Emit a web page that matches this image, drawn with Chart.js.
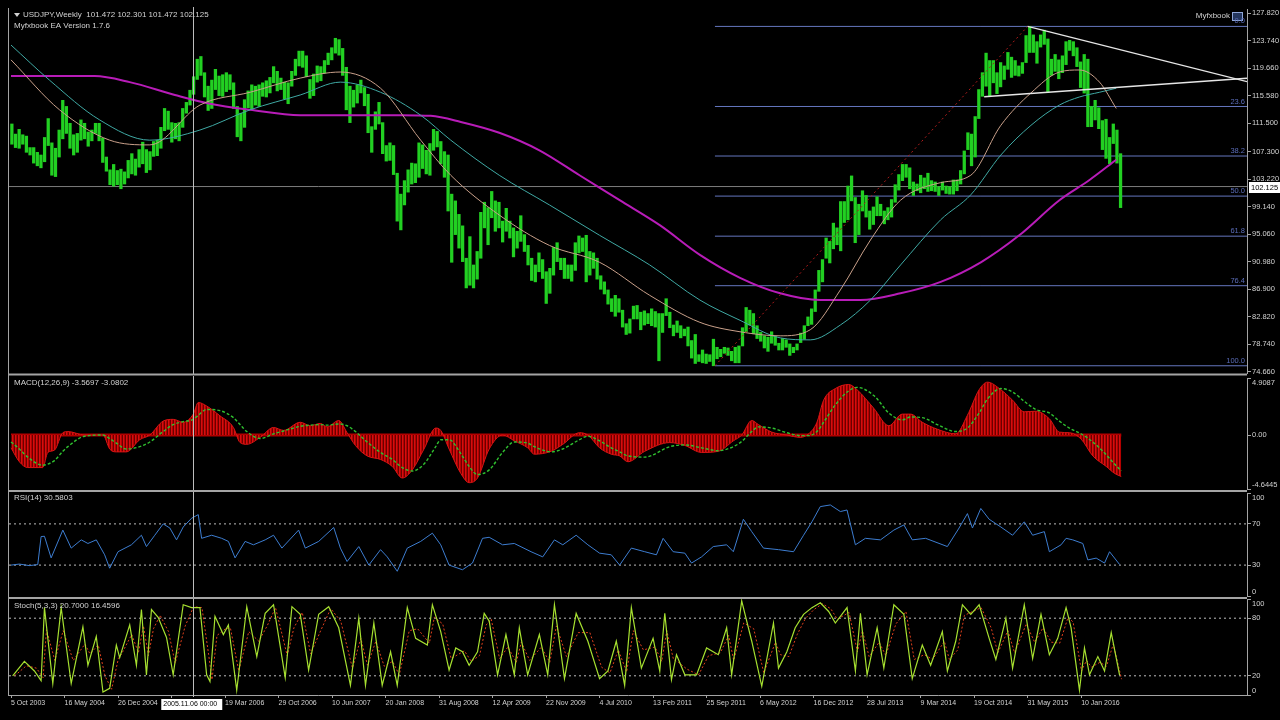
<!DOCTYPE html>
<html><head><meta charset="utf-8">
<script src="https://cdn.jsdelivr.net/npm/chart.js@4.4.1/dist/chart.umd.min.js"></script>
<style>
html,body{margin:0;padding:0;background:#000;overflow:hidden;width:1280px;height:720px}
canvas{position:absolute;left:0;top:0}
</style></head><body>
<canvas id="cMain" width="1280" height="720"></canvas>
<canvas id="cMacd" width="1280" height="720"></canvas>
<canvas id="cRsi" width="1280" height="720"></canvas>
<canvas id="cStoch" width="1280" height="720"></canvas>
<script>
// ---------- time axis: weeks since 5 Oct 2003 ----------
const X_MIN = -1.2, X_MAX = 739.2;
const dateTickWeeks = [0,32,64,96,128,160,192,224,256,288,320,352,384,416,448,480,512,544,576,608,640];
const dateTickLabels = ['5 Oct 2003','16 May 2004','26 Dec 2004','7 Aug 2005','19 Mar 2006','29 Oct 2006','10 Jun 2007','20 Jan 2008','31 Aug 2008','12 Apr 2009','22 Nov 2009','4 Jul 2010','13 Feb 2011','25 Sep 2011','6 May 2012','16 Dec 2012','28 Jul 2013','9 Mar 2014','19 Oct 2014','31 May 2015','10 Jan 2016'];
const crosshairWeek = 109;
const crosshairLabel = '2005.11.06 00:00';

// ---------- price axis ----------
const priceTickValues = [74.66,78.74,82.82,86.90,90.98,95.06,99.14,103.22,107.30,111.50,115.58,119.66,123.74,127.82];
const priceTickLabels = ['74.660','78.740','82.820','86.900','90.980','95.060','99.140','103.220','107.300','111.500','115.580','119.660','123.740','127.820'];

// ---------- USDJPY half-month bars (Oct 2003 .. Jun 2016), low / high ----------
const barLow = [
108.4,107.9,107.8,108.4,107.2,106.8,
105.6,105.2,104.9,105.8,108.2,103.8,103.6,106.5,109.2,110.0,107.8,106.8,107.2,109.0,109.2,108.1,108.9,110.0,108.9,105.7,104.4,102.4,102.2,102.4,
101.8,102.5,103.4,104.0,103.8,105.0,105.5,104.2,104.6,106.6,106.7,107.8,110.4,110.6,108.7,109.2,108.9,110.9,113.0,114.2,115.8,118.0,118.6,115.4,
113.4,113.7,116.5,115.6,115.5,116.2,116.5,113.7,109.5,108.9,110.9,113.8,113.6,114.2,114.0,115.5,115.4,116.0,117.5,116.3,116.5,115.1,114.4,117.0,
118.6,120.0,119.8,118.4,115.2,115.6,117.6,117.8,118.9,120.2,120.9,121.9,121.6,118.6,113.5,111.6,113.9,114.5,116.0,114.1,110.1,107.2,110.6,111.4,
107.0,105.9,106.0,103.9,97.0,95.7,99.4,101.3,102.5,102.7,103.5,104.8,104.0,103.8,107.5,108.0,105.5,103.5,98.5,90.9,95.0,93.0,91.0,87.1,
87.5,87.1,88.4,91.5,96.0,93.5,97.5,95.5,96.0,93.9,95.5,94.5,91.7,93.0,94.0,92.5,90.5,88.2,88.0,89.5,88.5,84.8,86.3,89.0,
91.0,89.8,88.5,88.5,88.1,89.7,92.3,92.5,88.0,89.0,90.0,88.4,86.9,86.2,84.7,83.6,82.9,83.5,81.3,80.2,80.4,82.5,82.5,80.9,
81.6,81.8,81.5,81.3,76.3,80.5,83.0,81.2,80.0,80.5,79.7,80.0,78.5,76.7,75.9,76.2,76.0,75.9,76.2,75.56,76.6,76.9,77.4,77.1,
76.3,76.0,76.0,78.5,80.6,81.6,80.3,79.6,79.2,78.2,77.7,78.9,78.6,77.9,77.9,78.3,77.1,77.5,77.9,79.0,79.5,81.5,81.7,83.6,
86.6,88.0,91.5,90.8,92.9,93.5,92.6,96.8,97.2,100.0,93.8,95.0,98.5,97.6,95.8,96.5,97.8,97.8,96.6,97.2,97.6,99.8,101.6,103.0,
103.5,101.8,100.8,101.5,101.2,101.8,101.4,101.5,101.4,100.8,101.6,101.1,101.0,101.0,101.5,102.5,104.0,107.6,105.2,106.5,112.2,115.5,117.0,115.6,
117.5,115.9,116.9,118.0,119.5,118.3,118.6,118.5,118.9,120.5,122.0,122.0,120.4,122.8,123.2,116.2,118.6,119.2,118.1,119.0,120.2,122.3,121.5,119.9,
116.8,115.98,110.99,111.0,112.0,110.7,107.6,106.3,105.5,108.5,105.6,99.0];
const barHigh = [
111.4,109.9,110.6,109.8,109.6,107.9,
107.9,107.2,106.8,109.4,112.2,108.6,107.8,110.5,114.9,114.0,111.5,109.8,110.0,112.0,111.5,110.2,110.5,111.5,111.5,109.3,106.5,104.6,105.4,104.5,
104.7,104.3,106.0,107.0,106.2,107.6,108.7,107.6,107.3,108.8,109.0,110.9,113.7,113.3,111.6,111.5,111.6,113.7,114.6,116.4,118.4,121.0,121.4,119.0,
117.0,117.9,119.5,118.5,118.7,119.0,118.7,117.5,114.0,113.0,115.0,116.3,117.2,117.0,117.2,117.5,117.8,118.3,119.9,119.2,118.2,117.6,117.5,119.2,
121.0,122.2,122.2,121.5,118.0,118.8,120.0,119.9,120.8,121.9,122.7,124.1,123.9,122.6,119.8,117.0,116.4,117.2,117.9,116.8,115.8,111.0,113.2,114.6,
111.6,108.2,108.6,108.2,104.1,101.0,103.0,104.6,105.6,105.5,108.6,108.3,107.5,108.5,110.6,110.3,108.8,107.3,106.8,101.0,100.0,98.0,96.3,91.5,
94.7,90.5,92.5,98.3,99.8,99.0,101.4,100.0,99.8,97.0,98.9,97.0,96.0,95.5,97.8,95.0,93.4,91.5,90.5,92.3,91.3,89.5,90.0,93.1,
93.8,91.5,91.5,90.5,90.5,93.8,94.8,94.5,94.9,92.5,92.3,91.5,88.9,88.0,86.8,85.5,86.0,85.5,83.8,81.8,82.5,84.4,84.5,83.5,
83.7,83.3,84.0,83.6,83.3,83.3,85.5,83.5,81.6,82.2,81.5,81.0,81.3,79.3,80.2,77.2,77.9,77.3,77.2,79.5,78.3,78.0,78.3,78.2,
77.7,78.3,78.5,81.2,84.2,83.8,83.3,81.5,80.5,80.0,79.8,80.6,79.9,78.9,79.6,79.4,78.8,78.3,78.8,80.4,81.5,82.8,84.0,86.8,
89.7,91.3,94.5,94.0,96.7,96.0,99.9,99.9,102.2,103.7,100.5,99.5,101.5,100.8,98.5,99.1,100.6,99.5,98.5,99.0,100.2,102.4,103.9,105.4,
105.4,104.9,102.8,102.5,103.8,103.4,104.1,103.0,102.8,102.1,102.8,102.2,102.1,103.1,103.1,104.5,107.4,110.1,109.9,112.5,116.5,119.0,121.9,120.8,
120.8,119.0,120.5,120.0,122.0,121.3,120.8,120.0,120.5,124.5,125.86,124.6,123.6,124.6,125.3,124.0,121.0,121.7,120.9,121.5,123.6,123.8,123.6,122.7,
120.6,121.7,121.0,114.0,114.9,113.8,111.9,112.1,109.4,111.4,110.5,107.0];
// half-month index -> week position on the time axis
const barWeek = i => (i / 2 + 0.25) * 4.348 - 0.57;

// ---------- moving averages ----------
const maLongWeeks = [0,50,71,98,119,143,173,203,233,251,269,292,316,340,364,388,412,436,460,484,508,532,556,580,603,627,645,661];
const maLong      = [118.5,118.5,117.6,115.7,114.4,113.5,112.7,112.7,112.7,112.6,111.7,110.1,107.5,103.8,100.1,96.4,92.0,88.6,86.3,85.3,85.3,86.3,88.0,90.9,94.9,100.1,103.1,106.1];
const maMidWeeks  = [0,23,53,83,113,143,173,197,221,245,263,292,322,352,382,412,436,460,478,496,514,532,556,574,592,610,627,639,651,661];
const maMid       = [123.1,117.9,112.0,109.0,110.5,113.5,115.7,117.6,116.1,112.7,109.0,103.8,99.4,94.9,90.5,85.3,82.3,79.7,79.4,81.6,85.3,90.5,97.2,100.9,106.8,111.2,114.2,115.4,116.1,116.7];
const maFastWeeks = [0,29,59,83,113,143,173,197,221,245,263,292,322,352,382,412,436,460,478,496,514,532,556,574,592,610,627,639,651,661];
const maFast      = [120.9,113.5,109.0,108.3,114.2,116.1,118.2,119.1,116.7,109.0,103.8,97.9,93.4,90.9,86.0,82.0,80.6,80.0,80.9,86.8,94.2,100.1,102.7,103.8,111.2,116.0,119.1,119.4,117.6,113.7];

// ---------- objects ----------
const bidPrice = 102.125;
const fibStartWeek = 421;
const fibPrices = [125.86,113.99,106.65,100.71,94.77,87.43,75.56];
const fibLabels = ['0.0','23.6','38.2','50.0','61.8','76.4','100.0'];
const fibBaseWeeks = [421,608];
const fibBasePrices = [75.56,125.86];
const trendAWeeks = [608,739.2];
const trendAPrices = [125.86,117.66];
const trendBWeeks = [582,739.2];
const trendBPrices = [115.44,118.17];

// ---------- MACD(12,26,9) ----------
const macdWeeks = [0,5,10,19,22,26,31,34,44,55,59,63,69,77,83,91,97,103,109,112,117,125,133,137,141,149,157,163,173,179,185,189,196,201,206,213,221,228,234,240,247,254,257,262,269,274,279,286,294,301,309,313,323,330,340,345,352,359,364,369,379,394,403,413,423,432,437,443,447,455,464,472,477,482,486,493,501,506,516,525,533,538,545,554,565,572,579,584,592,599,606,613,621,627,633,640,647,655,660,664];
const macdMain = [-1.1,-2.3,-2.8,-2.8,-1.5,-1.3,0.2,0.3,0.0,0.0,-1.2,-1.45,-1.45,-0.4,0,1.2,1.35,1.1,1.8,2.8,2.5,1.65,0.65,-0.65,-0.8,-0.2,0.65,0.4,1.1,0.8,1.0,0.7,1.25,0.2,-0.9,-1.8,-2.1,-2.7,-3.7,-3.0,-1.2,0.6,0.4,-1.2,-3.3,-4.1,-3.7,-1.2,0,-0.5,-1.1,-1.65,-1.4,-0.8,0.2,0,-1.1,-1.65,-1.8,-2.3,-1.4,-0.65,-0.9,-1.5,-1.4,-0.5,0,1.25,0.9,0.25,0,-0.2,0.1,1.1,3.0,4.0,4.35,3.9,2.3,0.8,1.8,1.8,1.1,0.5,0.1,1.7,3.9,4.55,3.9,3.0,2.0,2.05,1.4,0.25,0.2,-0.35,-1.8,-2.7,-3.3,-3.5697];
const macdSignal = [-0.6,-1.2,-1.9,-2.6,-2.5,-2.2,-1.4,-1.0,-0.1,0.0,-0.3,-0.7,-1.2,-1.0,-0.6,0.3,0.9,1.15,1.35,1.7,2.2,2.1,1.5,0.9,0.3,-0.3,0.1,0.35,0.75,0.85,0.9,0.85,0.95,0.8,0.3,-0.6,-1.5,-2.1,-2.8,-3.1,-2.5,-1.0,-0.4,-0.4,-1.6,-2.7,-3.4,-3.0,-1.5,-0.6,-0.7,-1.0,-1.45,-1.2,-0.4,-0.1,-0.5,-1.1,-1.45,-1.8,-1.9,-1.0,-0.85,-1.1,-1.35,-1.0,-0.55,0.3,0.7,0.6,0.2,-0.05,-0.05,0.3,1.1,2.6,3.8,4.1,3.4,1.9,1.3,1.55,1.5,0.9,0.3,0.6,1.9,3.1,4.0,3.7,2.9,2.2,1.9,1.2,0.6,0.1,-0.6,-1.7,-2.5,-3.0802];
const macdTickValues = [-4.6445,0,4.9087];
const macdTickLabels = ['-4.6445','0.00','4.9087'];

// ---------- RSI(14) ----------
const rsiWeeks = [0,5,11,16,18,20,24,31,36,42,46,51,56,59,64,72,78,81,86,91,95,99,103,108,112,114,120,126,130,134,140,145,152,157,162,172,176,184,193,197,201,208,214,221,225,231,237,245,252,257,262,270,276,282,286,294,301,311,318,325,330,338,345,352,359,364,371,379,386,390,396,403,407,413,420,428,432,438,443,450,459,468,474,479,484,490,496,500,505,511,520,528,534,539,547,560,567,572,575,580,585,592,599,606,611,618,621,628,631,635,641,644,649,654,657,663];
const rsiValues = [30,31,29.5,30.5,57.7,58,37,64,46.5,54.5,51,54.5,40,27,43,49.7,59,48,59,70,66,54.5,67,75.5,79,56,59,56,53,37,53,49.7,54.5,59,46.5,64,46.5,53,66.5,46.5,33.5,48,30,45,38,24,46.5,53,61,49.7,30,25.5,32,56,57,49.7,51,43,38,54.5,49.7,59,49.7,41.6,40,30,46.5,43,40,56,43,41.6,32,38,48,49.7,43,74.5,62.5,46.5,45,43,59,72,86.8,88.4,82,83.5,49.7,56,54.5,64,69,54.5,56,48,66,80,66,85,74.5,67,59,72,59,62.5,43,49.7,56,54.5,51,35,36.8,32,43,30.58];
const rsiLevels = [70,30];

// ---------- Stochastic(5,3,3) ----------
const stochWeeks = [1,8,14,18,20,25,30,36,43,46,51,55,59,63,65,71,75,78,81,84,88,93,97,103,108,113,117,119,122,127,130,135,141,147,152,157,164,168,173,178,184,190,196,203,208,212,217,222,227,231,237,242,249,252,257,262,266,270,274,279,283,286,291,296,301,304,309,316,321,325,331,338,345,352,357,362,367,371,377,384,388,391,395,398,403,410,416,423,428,431,437,443,449,456,459,464,469,474,479,484,489,493,500,505,508,512,518,522,528,534,539,545,550,557,560,565,569,574,579,585,589,595,599,606,611,616,621,626,631,634,639,642,645,650,654,658,663];
const stochMain = [20,35,25,15,91,12,91,12,71,31,61,3,7,52,39,73,31,89,21,89,81,60,21,94,91,91,21,14,82,63,73,5,92,40,85,94,18,92,84,26,84,92,70,10,80,10,75,10,45,10,91,59,52,94,66,26,49,45,31,45,85,77,21,63,21,70,21,63,21,94,17,85,56,17,25,56,10,91,28,59,25,85,16,42,21,21,49,42,70,21,98,56,9,75,28,45,70,84,91,96,87,75,91,25,85,21,70,28,94,84,17,52,31,66,25,56,94,84,94,59,37,80,28,94,38,84,42,59,91,70,5,49,21,40,25,65,20.7];
const stochSignal = [20,30.5,28,18,68,36,67,36,53,43,52,20,6,38,43,63,44,72,41,69,83,66,33,72,92,91,42,16,62,69,70,25,66,56,72,91,41,70,86,43,67,90,77,28,59,31,56,30,35,21,67,69,54,81,74,38,42,46,35,41,73,79,38,50,34,55,36,50,34,72,40,65,65,29,23,47,24,67,47,50,35,67,37,34,27,21,41,44,62,36,75,69,23,55,42,40,63,80,89,95,90,79,86,45,67,40,55,41,74,87,37,42,37,56,37,47,83,87,91,70,44,67,44,74,55,70,55,54,81,76,25,36,29,34,30,53,16.46];
const stochSignalLagWeeks = 1.2;
const stochLevels = [80,20];

// ---------- styling ----------
const FONT = "'Liberation Sans', Arial, sans-serif";
const TXT = '#d2d2d2';
const FRAME = '#a4a4a4';

const pts = (ws, vs) => ws.map((w, i) => ({ x: w, y: vs[i] }));
const line = (data, color, width, extra) => Object.assign({
  type: 'line', data, borderColor: color, borderWidth: width, pointRadius: 0,
  fill: false, tension: 0, spanGaps: true
}, extra || {});

function xAxis(show) {
  return {
    type: 'linear', min: X_MIN, max: X_MAX, offset: false, display: show,
    afterBuildTicks: s => { s.ticks = dateTickWeeks.map(v => ({ value: v })); },
    afterFit: s => { if (show) s.height = 25; },
    ticks: { autoSkip: false, maxRotation: 0, minRotation: 0, align: 'start', padding: 1,
      color: TXT, font: { family: FONT, size: 7 }, callback: (v, i) => dateTickLabels[i] },
    grid: { display: show, drawOnChartArea: false, drawTicks: true, tickLength: 3, color: FRAME },
    border: { display: show, color: FRAME, width: 1 }
  };
}
function yAxis(min, max, vals, labels) {
  return {
    position: 'right', min, max,
    afterFit: s => { s.width = 33; },
    afterBuildTicks: s => { s.ticks = vals.map(v => ({ value: v })); },
    ticks: { autoSkip: false, padding: 1, color: TXT, font: { family: FONT, size: 7.5 },
      callback: (v, i) => labels[i] },
    grid: { drawOnChartArea: false, drawTicks: true, tickLength: 4, color: FRAME },
    border: { display: true, color: FRAME, width: 1 }
  };
}
function baseOptions(top, bottom) {
  return {
    responsive: false, animation: false, events: [], devicePixelRatio: 1,
    layout: { padding: { left: 9, right: 0, top: top, bottom: bottom } },
    plugins: { legend: { display: false }, tooltip: { enabled: false } }
  };
}
function txt(ctx, s, x, y, color, size, align) {
  ctx.save();
  ctx.font = size + 'px ' + FONT;
  ctx.fillStyle = color; ctx.textAlign = align || 'left'; ctx.textBaseline = 'middle';
  ctx.fillText(s, x, y);
  ctx.restore();
}
const crosshair = {
  id: 'crosshair',
  afterDatasetsDraw(chart) {
    const { ctx, chartArea, scales } = chart;
    const x = Math.round(scales.x.getPixelForValue(crosshairWeek)) + 0.5;
    ctx.save();
    ctx.strokeStyle = '#bdbdbd'; ctx.lineWidth = 1;
    ctx.beginPath(); ctx.moveTo(x, chartArea.top - 2); ctx.lineTo(x, chartArea.bottom + 2); ctx.stroke();
    ctx.restore();
  }
};

// ================= MAIN PRICE PANEL =================
const mainDatasets = [];
mainDatasets.push(line(pts(trendAWeeks, trendAPrices), '#e6e6e6', 1.2, { order: 0 }));
mainDatasets.push(line(pts(trendBWeeks, trendBPrices), '#e6e6e6', 1.4, { order: 0 }));
mainDatasets.push(line(pts(fibBaseWeeks, fibBasePrices), '#b01c1c', 1, { order: 1, borderDash: [2, 3] }));
mainDatasets.push(line(pts(maFastWeeks, maFast), '#c9a08a', 1, { order: 2, cubicInterpolationMode: 'monotone' }));
mainDatasets.push(line(pts(maMidWeeks, maMid), '#3fa9a4', 1, { order: 3, cubicInterpolationMode: 'monotone' }));
mainDatasets.push(line(pts(maLongWeeks, maLong), '#b81cb8', 2, { order: 4, cubicInterpolationMode: 'monotone' }));
mainDatasets.push({
  type: 'bar', order: 5, grouped: false,
  data: barLow.map((lo, i) => ({ x: barWeek(i), y: [lo, barHigh[i]] })),
  backgroundColor: '#22d022', borderWidth: 0, barThickness: 2.6
});
mainDatasets.push(line(pts([X_MIN, X_MAX], [bidPrice, bidPrice]), '#7c7c7c', 1, { order: 6 }));
fibPrices.forEach(p => mainDatasets.push(line(pts([fibStartWeek, X_MAX], [p, p]), '#6476be', 1, { order: 7 })));

const mainOpts = baseOptions(9, 347);
mainOpts.scales = { x: xAxis(false), y: yAxis(74.49, 128.44, priceTickValues, priceTickLabels) };

new Chart(document.getElementById('cMain'), {
  type: 'line',
  data: { datasets: mainDatasets },
  options: mainOpts,
  plugins: [crosshair, {
    id: 'mainText',
    afterDraw(chart) {
      const { ctx, scales } = chart;
      ctx.save(); ctx.fillStyle = TXT;
      ctx.beginPath(); ctx.moveTo(14, 13); ctx.lineTo(20, 13); ctx.lineTo(17, 17); ctx.closePath(); ctx.fill();
      ctx.restore();
      txt(ctx, 'USDJPY,Weekly  101.472 102.301 101.472 102.125', 23, 15, TXT, 8);
      txt(ctx, 'Myfxbook EA Version 1.7.6', 14, 26, TXT, 8);
      txt(ctx, 'Myfxbook', 1230, 16, TXT, 8, 'right');
      ctx.save(); ctx.strokeStyle = '#8fa6d8'; ctx.fillStyle = '#24365e';
      ctx.fillRect(1232.5, 12.5, 10, 8); ctx.strokeRect(1232.5, 12.5, 10, 8); ctx.restore();
      fibPrices.forEach((p, i) => {
        const y = scales.y.getPixelForValue(p);
        txt(ctx, fibLabels[i], 1245, y - 5, '#5a6cb8', 7.5, 'right');
      });
      const yb = Math.round(scales.y.getPixelForValue(bidPrice));
      ctx.save(); ctx.fillStyle = '#ffffff'; ctx.fillRect(1249, yb - 5, 31, 11); ctx.restore();
      txt(ctx, '102.125', 1251, yb + 0.5, '#000000', 7.5);
    }
  }]
});

// ================= MACD PANEL =================
const macdCanvas = document.getElementById('cMacd');
const stripe = document.createElement('canvas'); stripe.width = 3; stripe.height = 4;
const sg = stripe.getContext('2d');
sg.fillStyle = '#b40000'; sg.fillRect(0, 0, 3, 4);
sg.fillStyle = '#d41010'; sg.fillRect(0, 0, 1, 4);
sg.fillStyle = '#6a0000'; sg.fillRect(2, 0, 1, 4);
const stripePattern = macdCanvas.getContext('2d').createPattern(stripe, 'repeat');

const macdOpts = baseOptions(378, 231);
macdOpts.scales = { x: xAxis(false), y: yAxis(-4.6445, 4.9087, macdTickValues,
  macdTickLabels.map((l, i) => i === 0 ? [l, ''] : (i === macdTickLabels.length - 1 ? ['', l] : l))) };
new Chart(macdCanvas, {
  type: 'line',
  data: { datasets: [
    line(pts(macdWeeks, macdSignal), '#2fc02f', 1.4, { order: 0, borderDash: [3, 2], cubicInterpolationMode: 'monotone' }),
    line(pts([0, 664], [0, 0]), '#b00000', 3, { order: 2 }),
    line(pts(macdWeeks, macdMain), '#d81414', 1, { order: 1, fill: 'origin', backgroundColor: stripePattern, cubicInterpolationMode: 'monotone' })
  ] },
  options: macdOpts,
  plugins: [crosshair, { id: 'macdText', afterDraw(chart) {
    txt(chart.ctx, 'MACD(12,26,9) -3.5697 -3.0802', 14, 383, TXT, 8);
  } }]
});

// ================= RSI PANEL =================
const rsiOpts = baseOptions(493, 124);
rsiOpts.scales = { x: xAxis(false), y: yAxis(0, 100, [0, 30, 70, 100], [['0', ''], '30', '70', ['', '100']]) };
new Chart(document.getElementById('cRsi'), {
  type: 'line',
  data: { datasets: [
    line(pts(rsiWeeks, rsiValues), '#3d7dd0', 1, { order: 0 }),
    ...rsiLevels.map(l => line(pts([X_MIN, X_MAX], [l, l]), '#bdbdbd', 1, { order: 1, borderDash: [2, 3] }))
  ] },
  options: rsiOpts,
  plugins: [crosshair, { id: 'rsiText', afterDraw(chart) {
    txt(chart.ctx, 'RSI(14) 30.5803', 14, 498, TXT, 8);
  } }]
});

// ================= STOCHASTIC PANEL =================
const stOpts = baseOptions(599, 0);
stOpts.scales = { x: xAxis(true), y: yAxis(0, 100, [0, 20, 80, 100], [['0', ''], '20', '80', ['', '100']]) };
new Chart(document.getElementById('cStoch'), {
  type: 'line',
  data: { datasets: [
    line(pts(stochWeeks, stochMain), '#a6e030', 1.2, { order: 0 }),
    line(pts(stochWeeks.map(w => w + stochSignalLagWeeks), stochSignal), '#e0401c', 1, { order: 1, borderDash: [2, 2] }),
    ...stochLevels.map(l => line(pts([X_MIN, X_MAX], [l, l]), '#bdbdbd', 1, { order: 2, borderDash: [2, 3] }))
  ] },
  options: stOpts,
  plugins: [crosshair, { id: 'stText', afterDraw(chart) {
    const { ctx, scales } = chart;
    txt(ctx, 'Stoch(5,3,3) 20.7000 16.4596', 14, 606, TXT, 8);
    ctx.save(); ctx.fillStyle = FRAME;
    ctx.fillRect(8, 8, 1, 688);
    ctx.fillRect(8, 373.5, 1239, 2);
    ctx.fillRect(8, 490, 1239, 2);
    ctx.fillRect(8, 597, 1239, 2);
    ctx.restore();
    const xc = scales.x.getPixelForValue(crosshairWeek);
    ctx.save(); ctx.fillStyle = '#ffffff'; ctx.fillRect(xc - 32, 699, 61, 11); ctx.restore();
    txt(ctx, crosshairLabel, xc - 30, 704.5, '#000000', 7);
  } }]
});
</script>
</body></html>
